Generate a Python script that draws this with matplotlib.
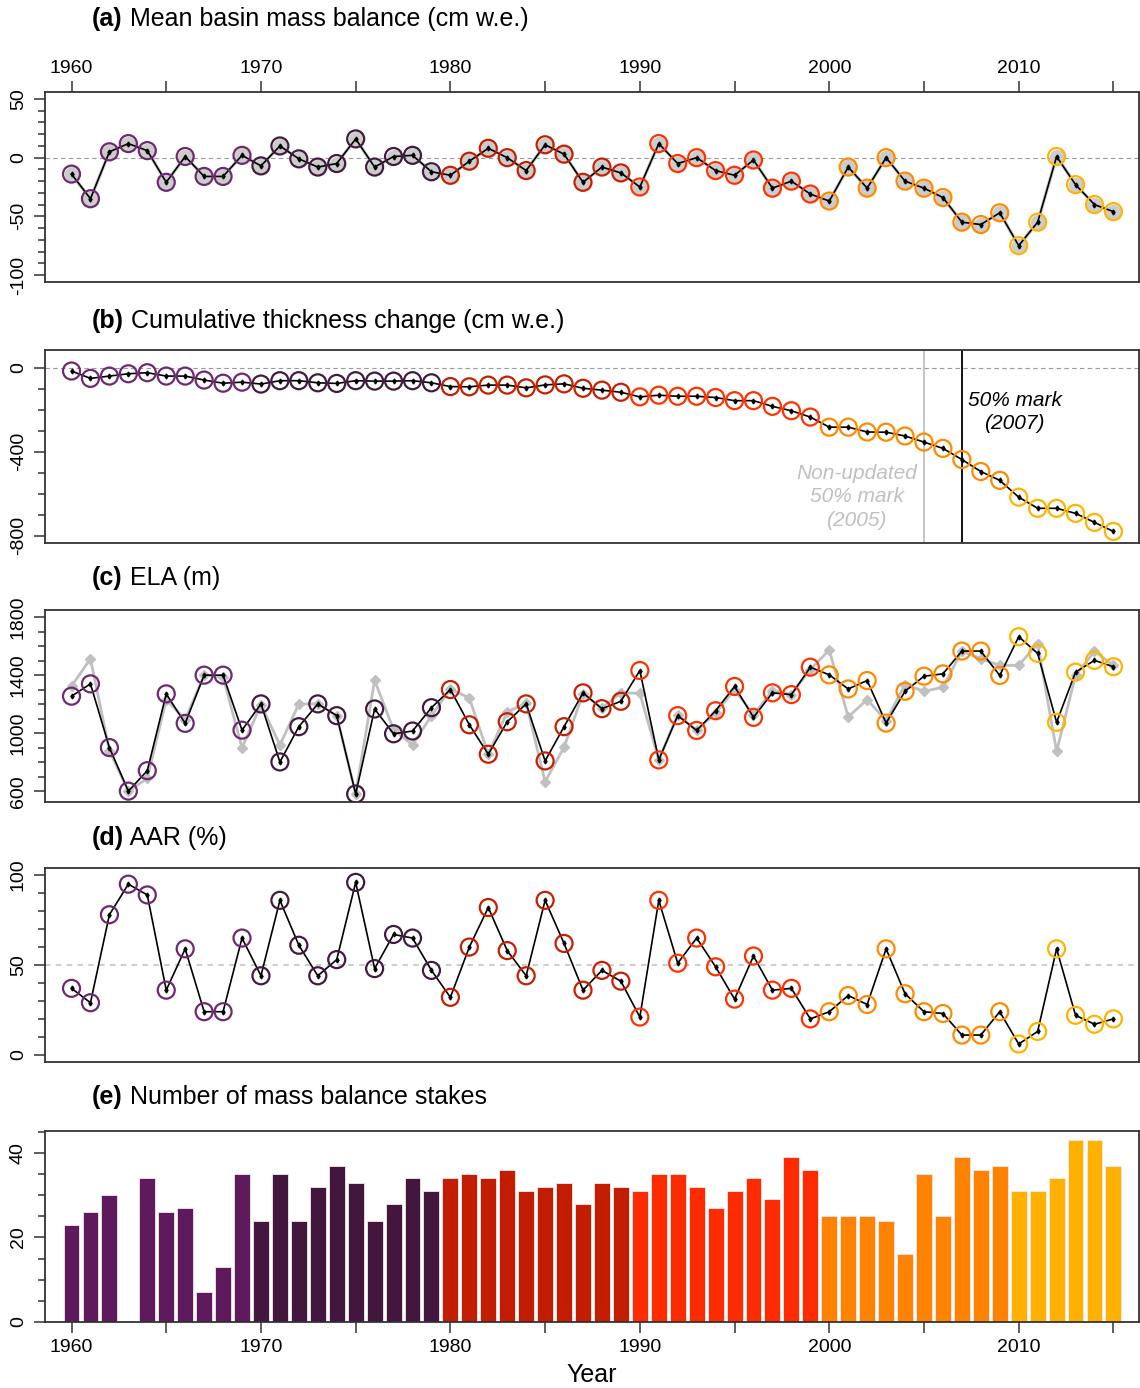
import numpy as np
import matplotlib.pyplot as plt
from matplotlib.ticker import FixedLocator, MultipleLocator

plt.rcParams['font.family'] = ['Liberation Sans', 'DejaVu Sans']
plt.rcParams['axes.unicode_minus'] = False

years = np.arange(1960, 2016)

# (a) mean basin mass balance, cm w.e.
mass_balance = [-14, -35, 5, 12, 6, -21, 1, -16, -16, 2,
                -7, 10, -1, -8, -5, 16, -8, 1, 2, -12,
                -15, -3, 8, 0, -11, 11, 3, -21, -8, -13,
                -25, 12, -5, 0, -11, -15, -2, -26, -20, -31,
                -37, -8, -26, 0, -20, -26, -34, -55, -57, -47,
                -75, -55, 1, -23, -40, -46]

# (b) cumulative thickness change, cm w.e.
cumulative = [-16, -51, -40, -29, -24, -40, -40, -59, -74, -69,
              -78, -62, -62, -72, -75, -62, -64, -64, -62, -72,
              -90, -91, -83, -83, -96, -82, -77, -98, -107, -117,
              -139, -131, -136, -136, -142, -157, -157, -184, -205, -235,
              -283, -283, -306, -307, -325, -354, -384, -437, -494, -536,
              -616, -669, -669, -693, -736, -779]

# (c) ELA (m), updated and non-updated
ela = [1255, 1340, 901, 601, 742, 1271, 1068, 1400, 1400, 1021,
       1202, 802, 1045, 1202, 1121, 581, 1167, 996, 1015, 1176,
       1301, 1058, 855, 1079, 1202, 809, 1045, 1278, 1169, 1220,
       1432, 816, 1121, 1019, 1155, 1322, 1109, 1278, 1266, 1455,
       1402, 1305, 1363, 1070, 1289, 1393, 1409, 1566, 1566, 1398,
       1665, 1550, 1075, 1421, 1502, 1458]
ela_old = [1324, 1513, 880, 600, 689, 1232, 1093, 1400, 1388, 899,
           1197, 918, 1202, 1202, 1121, 581, 1365, 1024, 920, 1121,
           1305, 1243, 855, 1146, 1208, 666, 904, 1271, 1174, 1278,
           1275, 816, 1128, 1019, 1139, 1301, 1128, 1294, 1266, 1439,
           1573, 1112, 1232, 1086, 1335, 1289, 1317, 1566, 1513, 1467,
           1467, 1617, 874, 1398, 1564, 1467]

# (d) AAR (%)
aar = [37, 29, 78, 95, 89, 36, 59, 24, 24, 65,
       44, 86, 61, 44, 53, 96, 48, 67, 65, 47,
       32, 60, 82, 58, 44, 86, 62, 36, 47, 41,
       21, 86, 51, 65, 49, 31, 55, 36, 37, 20,
       24, 33, 28, 59, 34, 24, 23, 11, 11, 24,
       6, 13, 59, 22, 17, 20]

# (e) number of stakes
stakes = [23, 26, 30, 0, 34, 26, 27, 7, 13, 35,
          24, 35, 24, 32, 37, 33, 24, 28, 34, 31,
          34, 35, 34, 36, 31, 32, 33, 28, 33, 32,
          31, 35, 35, 32, 27, 31, 34, 29, 39, 36,
          25, 25, 25, 24, 16, 35, 25, 39, 36, 37,
          31, 31, 34, 43, 43, 37]

pt_cols = ['#6e2a70', '#421c3e', '#c42000', '#ff3300', '#ff8a00', '#ffb400']
bar_cols = ['#5e1a5c', '#43163d', '#c21d00', '#ff2b00', '#ff8200', '#ffb000']
dec = (years - 1960) // 10
pcol = [pt_cols[d] for d in dec]
bcol = [bar_cols[d] for d in dec]

W, H = 1140, 1388
fig = plt.figure(figsize=(W / 100, H / 100), dpi=100)

left, right = 45, 1139
boxes = [(92, 282), (350, 543), (610, 802), (868, 1062), (1131, 1322)]
axs = []
for top, bot in boxes:
    axs.append(fig.add_axes([left / W, 1 - bot / H, (right - left) / W, (bot - top) / H]))

titles = [('(a)', ' Mean basin mass balance (cm w.e.)', 19),
          ('(b)', ' Cumulative thickness change (cm w.e.)', 321),
          ('(c)', ' ELA (m)', 578),
          ('(d)', ' AAR (%)', 838),
          ('(e)', ' Number of mass balance stakes', 1097)]
for lab, txt, y in titles:
    t = fig.text(92 / W, 1 - y / H, lab, fontsize=18, fontweight='bold', va='center')
    fig.canvas.draw()
    bb = t.get_window_extent()
    fig.text(bb.x1 / W, 1 - y / H, txt, fontsize=18, va='center')

xlim = (1958.6, 2016.35)
xt = np.arange(1960, 2016, 5)
xl = [str(v) if v % 10 == 0 else '' for v in xt]


def style(ax, ylim, major, minor):
    ax.set_xlim(*xlim)
    ax.set_ylim(*ylim)
    for s in ax.spines.values():
        s.set_linewidth(1.3)
        s.set_color('#333333')
    ax.yaxis.set_major_locator(FixedLocator(major))
    ax.yaxis.set_minor_locator(MultipleLocator(minor))
    ax.tick_params(axis='y', which='major', length=8, width=1.1, labelsize=14,
                   labelrotation=90, pad=5, color='#333333')
    ax.tick_params(axis='y', which='minor', length=5, width=1.1, color='#333333')
    for lbl in ax.get_yticklabels():
        lbl.set_va('center')
    ax.set_xticks([])


def points(ax, vals):
    ax.plot(years, vals, color='black', lw=1.2, marker='d', ms=2.5, zorder=3)
    ax.scatter(years, vals, s=150, facecolors='none', edgecolors=pcol, linewidths=1.6, zorder=4)


# (a)
ax = axs[0]
style(ax, (-106, 56), [-100, -50, 0, 50], 10)
ax.axhline(0, color='#999999', lw=0.8, ls=(0, (4, 3)), zorder=1)
ax.plot(years, mass_balance, color='#cccccc', lw=2.5, marker='o', ms=10, zorder=2)
points(ax, mass_balance)
ax.xaxis.set_ticks_position('top')
ax.set_xticks(xt)
ax.set_xticklabels(xl)
ax.tick_params(axis='x', length=8, width=1.1, labelsize=14, pad=3, color='#333333')

# (b)
ax = axs[1]
style(ax, (-834, 84), [0, -400, -800], 100)
ax.axhline(0, color='#999999', lw=0.8, ls=(0, (4, 3)), zorder=1)
ax.axvline(2005, color='#c0c0c0', lw=1.3, zorder=1)
ax.axvline(2007, color='black', lw=1.3, zorder=1)
points(ax, cumulative)
ax.text(2009.78, -211, '50% mark\n(2007)', fontsize=15, style='italic',
        ha='center', va='center', linespacing=1.3)
ax.text(2001.45, -615, 'Non-updated\n50% mark\n(2005)', fontsize=15, style='italic',
        color='#c0c0c0', ha='center', va='center', linespacing=1.3)

# (c)
ax = axs[2]
style(ax, (526, 1849), [600, 1000, 1400, 1800], 100)
ax.plot(years, ela_old, color='#c0c0c0', lw=2, marker='D', ms=5, zorder=2)
points(ax, ela)

# (d)
ax = axs[3]
style(ax, (-4, 104), [0, 50, 100], 10)
ax.axhline(50, color='#c8c8c8', lw=1.3, ls=(0, (3, 3)), zorder=1)
points(ax, aar)

# (e)
ax = axs[4]
style(ax, (0, 45.2), [0, 20, 40], 5)
ax.bar(years, stakes, width=0.84, color=bcol, edgecolor='#f4e8ec', linewidth=0.6, zorder=2)
ax.set_xticks(xt)
ax.set_xticklabels(xl)
ax.tick_params(axis='x', length=8, width=1.1, labelsize=14, pad=4, color='#333333')
ax.set_xlabel('Year', fontsize=18, labelpad=5)

fig.savefig('out.png', dpi=100)
